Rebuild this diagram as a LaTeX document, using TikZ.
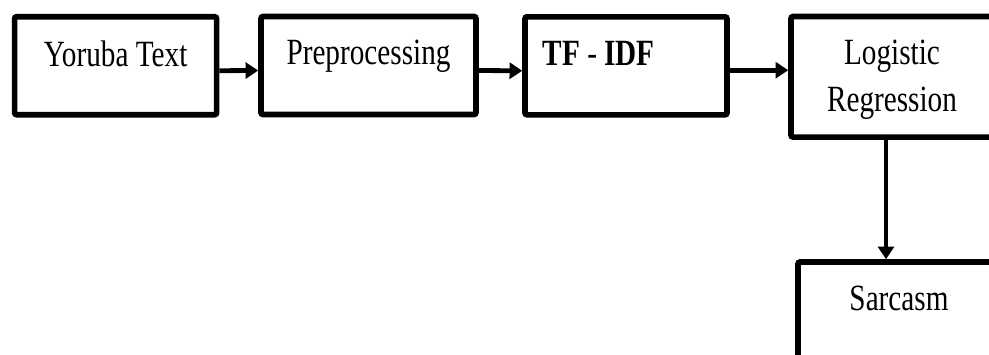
\documentclass[tikz,border=0pt]{standalone}
\usepackage{fontspec}
\setmainfont[FakeStretch=0.79]{Liberation Serif}
\usetikzlibrary{arrows.meta, positioning}

\begin{document}
\begin{tikzpicture}[x=0.75pt, y=-0.75pt,
    stage/.style={draw, line width=4.2pt, rounded corners=1.5pt, inner sep=0pt,
        minimum width=151.5pt, minimum height=73.5pt},
    tag/.style={inner sep=0pt, outer sep=0pt, align=center,
        font=\fontsize{27.75pt}{35.25pt}\selectfont},
    flow/.style={line width=3.6pt, -{Triangle[length=9.5pt, width=12pt]}}]
    \useasboundingbox (0,0) rectangle (989,354);
    \clip (0,0) rectangle (989,354);

    % --- top row: text in, features, classifier ---
    \node[stage] (yoruba) at (115.6,65.7) {};
    \node[stage, minimum width=161.25pt] (prep) at (368.5,65.5) {};
    \node[stage] (tfidf) at (626,65.8) {};
    \node[stage, minimum height=90.4pt] (logreg) at (892,76.8) {};
    \node[tag, below=20pt of yoruba.north] (yorubaTxt) {Yoruba Text};
    \node[tag, below=20pt of prep.north] (prepTxt) {Preprocessing};
    \node[tag, below right=20.6pt and 15.4pt of tfidf.north west] (tfidfTxt) {\textbf{TF} - \textbf{IDF}};
    \node[tag, below=20pt of logreg.north] (logregTxt) {Logistic\\Regression};

    % --- output box (runs off the page) ---
    \node[stage, minimum height=75pt] (sarcasm) at (899,312) {};
    \node[tag, below=20pt of sarcasm.north] (sarcasmTxt) {Sarcasm};

    % --- connectors ---
    \draw[flow] ([yshift=-3.75pt]yoruba.east) -- ([yshift=-3.75pt]prep.west);
    \draw[flow] ([yshift=-3.75pt]prep.east) -- ([yshift=-3.75pt]tfidf.west);
    \draw[flow] ([yshift=-3.3pt]tfidf.east) -- ([yshift=-3.3pt]tfidf.east -| logreg.west);
    \draw[flow] ([xshift=-4.5pt]logreg.south) -- ([xshift=-4.5pt]logreg.south |- sarcasm.north);
\end{tikzpicture}
\end{document}
